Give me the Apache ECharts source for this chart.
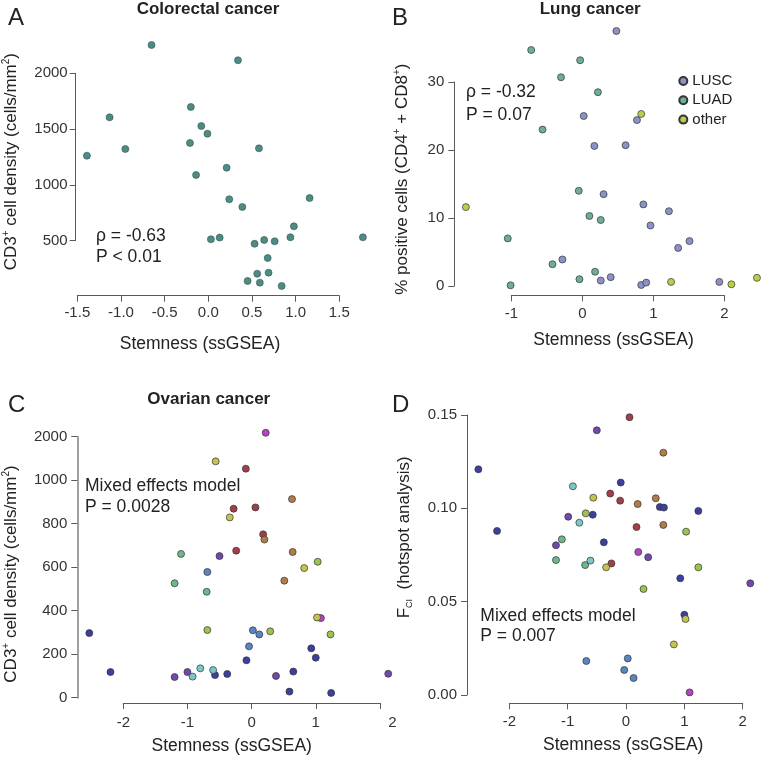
<!DOCTYPE html>
<html><head><meta charset="utf-8">
<script src="https://cdn.jsdelivr.net/npm/echarts@6/dist/echarts.min.js"></script>
<style>html,body{margin:0;padding:0;background:#fff}#c{width:762px;height:758px}</style>
</head><body><div id="c"></div>
<script>
// ---------- Panel A: Colorectal cancer ----------
const A_x = [-0.65, 0.34, -1.13, -1.39, -0.95, -0.20, -0.08, -0.01, -0.21, 0.58, -0.14, 0.21, 0.24, 0.39, 1.16, 0.98, 0.94, 1.77, 0.03, 0.13, 0.53, 0.64, 0.76, 0.68, 0.56, 0.69, 0.45, 0.59, 0.84];
const A_y = [2254, 2117, 1605, 1261, 1321, 1698, 1527, 1458, 1375, 1327, 1088, 1153, 870, 801, 881, 627, 529, 529, 511, 526, 471, 505, 493, 343, 202, 211, 137, 122, 92];
const A_xticks = [-1.5, -1.0, -0.5, 0.0, 0.5, 1.0, 1.5];
const A_yticks = [500, 1000, 1500, 2000];

// ---------- Panel B: Lung cancer ----------
const B_types = ['LUSC', 'LUAD', 'other'];
const B_x = [0.48, -0.72, -0.03, -0.30, 0.22, 0.02, 0.83, 0.77, -0.56, 0.17, 0.61, -0.05, 0.30, 0.86, 1.22, -1.64, 0.10, 0.26, 0.96, -1.05, 1.35, 1.51, -0.28, -0.42, 0.18, -0.04, 0.26, 0.40, -1.01, 0.83, 0.90, 1.25, 1.93, 2.10, 2.46];
const B_y = [37.5, 34.7, 33.2, 30.7, 28.5, 25.0, 25.3, 24.4, 23.0, 20.6, 20.7, 14.0, 13.5, 12.0, 11.0, 11.6, 10.3, 9.7, 8.9, 7.0, 5.6, 6.6, 3.9, 3.2, 2.1, 1.0, 0.8, 1.3, 0.1, 0.15, 0.5, 0.6, 0.6, 0.25, 1.2];
const B_type = ['LUSC','LUAD','LUAD','LUAD','LUAD','LUSC','other','LUSC','LUAD','LUSC','LUSC','LUAD','LUSC','LUSC','LUSC','other','LUAD','LUAD','LUSC','LUAD','LUSC','LUSC','LUSC','LUAD','LUAD','LUAD','LUSC','LUSC','LUAD','LUSC','LUSC','other','LUSC','other','other'];

// ---------- Panel C: Ovarian cancer ----------
const groups = ['DB','PU','MG','RD','OR','YO','YG','GR','CY','SB'];
const C_x = [0.22, -0.56, -0.09, 0.63, 0.06, -0.28, -0.34, 0.18, 0.20, -0.24, 0.64, -1.10, -0.50, 1.03, 0.82, -0.69, 0.51, -1.20, -0.70, 1.08, 1.02, -2.53, -0.69, 0.02, 0.12, 0.29, 1.23, -0.04, 0.93, 1.00, -0.08, -2.20, -0.80, -1.00, -0.60, 0.65, -1.20, -0.92, -0.57, -0.38, 0.38, 0.59, 1.24, 2.13];
const C_y = [2090, 1433, 1265, 913, 875, 869, 829, 751, 727, 676, 670, 661, 651, 625, 596, 578, 538, 526, 487, 366, 369, 297, 311, 310, 291, 305, 291, 236, 227, 184, 172, 118, 135, 118, 127, 120, 95, 97, 104, 109, 100, 28, 22, 110];
const C_group = ['MG','YO','RD','OR','RD','RD','YO','RD','OR','RD','OR','GR','PU','YG','YO','SB','OR','GR','GR','MG','YO','DB','YG','SB','SB','YG','YG','SB','DB','DB','DB','DB','CY','PU','CY','DB','PU','CY','DB','DB','PU','DB','DB','PU'];
const C_yticks = [0, 200, 400, 600, 800, 1000, 2000];

// ---------- Panel D: hotspot analysis ----------
const D_x = [0.06, -0.50, 0.64, -2.53, -0.09, -0.91, -0.27, -0.56, 0.51, -0.10, 0.20, 0.58, 0.65, 1.24, -0.69, -0.57, -0.99, -0.80, 0.64, 0.18, -2.21, 1.03, -1.10, -0.38, -1.20, 0.21, 0.38, -1.20, -0.61, -0.70, -0.25, -0.34, 1.24, 0.93, 2.13, 0.30, 1.00, 1.02, 0.82, -0.68, 0.03, -0.03, 0.13, 1.09];
const D_y = [0.1488, 0.1418, 0.1298, 0.1209, 0.1138, 0.1118, 0.1079, 0.1057, 0.1054, 0.1041, 0.1023, 0.1007, 0.1004, 0.0986, 0.0973, 0.0966, 0.0955, 0.0923, 0.0911, 0.0900, 0.0879, 0.0875, 0.0834, 0.0818, 0.0802, 0.0766, 0.0738, 0.0723, 0.0720, 0.0696, 0.0705, 0.0684, 0.0684, 0.0625, 0.0598, 0.0568, 0.0430, 0.0407, 0.0271, 0.0182, 0.0196, 0.0134, 0.0091, 0.0014];
const D_group = ['RD','PU','OR','DB','DB','CY','RD','YO','OR','RD','OR','DB','DB','DB','YG','DB','PU','CY','OR','RD','DB','YG','GR','DB','PU','MG','PU','GR','CY','GR','RD','YO','YG','DB','PU','YG','DB','YO','YO','SB','SB','SB','SB','MG'];

// ---------- styling ----------
const FONT = '"Liberation Sans", Arial, Helvetica, sans-serif';
const groupColor = {DB:'#3c3ea0', PU:'#7148ac', MG:'#b444c0', RD:'#a23e48', OR:'#b27c4a', YO:'#c6c34c', YG:'#9cc250', GR:'#6cb88a', CY:'#7cc6c6', SB:'#5a84c2'};
const bColor = {LUSC:'#8c91c6', LUAD:'#6cae98', other:'#b6d04c'};

// C axis uses a compressed segment above 1000 (1000..2000 drawn like 1000..1200)
const cT = v => v <= 1000 ? v : 1000 + (v - 1000) / 5;
const cInv = t => t <= 1000 ? t : 1000 + (t - 1000) * 5;

const grids = [
  {left: 77.3, top: 73.3, width: 262, height: 167.2},
  {left: 511.3, top: 82, width: 213, height: 204},
  {left: 123.3, top: 436.7, width: 256.6, height: 261},
  {left: 509.3, top: 415, width: 233.4, height: 280}
];
grids.forEach(g => { g.containLabel = false; g.outerBoundsMode = 'none'; });

function axisBase(gi, min, max, interval, offset, fmt, margin, lineColor, lineWidth, rich) {
  return {
    gridIndex: gi, type: 'value', min, max, interval, offset,
    axisLine: {show: true, onZero: false, lineStyle: {color: lineColor || '#5a5a5a', width: lineWidth || 1}},
    axisTick: {show: true, length: 6, lineStyle: {color: '#5a5a5a', width: 1}},
    axisLabel: {show: true, fontSize: 15, color: '#333', fontFamily: FONT, margin, formatter: fmt, showMinLabel: true, showMaxLabel: true, hideOverlap: false, rich},
    splitLine: {show: false}
  };
}

const xAxes = [
  axisBase(0, -1.5, 1.5, 0.5, 55.2, v => v.toFixed(1), 10),
  axisBase(1, -1, 2, 1, 9.3, v => String(v), 11),
  axisBase(2, -2, 2, 1, 5.3, v => v === 2 ? '{r|2}' : String(v), 12, null, null,
    {r: {fontSize: 15, color: '#333', fontFamily: FONT, padding: [0, 0, 0, 25]}}),
  axisBase(3, -2, 2, 1, 8.3, v => String(v), 11)
];
const yAxes = [
  axisBase(0, 500, 2000, 500, 1.6, v => String(v), 8),
  axisBase(1, 0, 30, 10, 57, v => String(v), 10),
  axisBase(2, 0, 1200, 200, 46, v => String(cInv(v)), 10, '#a0a0a0', 2),
  axisBase(3, 0, 0.15, 0.05, 42.3, v => v.toFixed(2), 10)
];

const sym = 7;
const series = [];
series.push({
  type: 'scatter', name: 'Colorectal', xAxisIndex: 0, yAxisIndex: 0, clip: false, symbolSize: sym,
  itemStyle: {color: '#4e8b83', borderColor: '#2f5650', borderWidth: 0.6, opacity: 1},
  emphasis: {disabled: true},
  data: A_x.map((x, i) => [x, A_y[i]])
});
B_types.forEach(t => {
  const d = [];
  B_x.forEach((x, i) => { if (B_type[i] === t) d.push([x, B_y[i]]); });
  series.push({
    type: 'scatter', name: t, xAxisIndex: 1, yAxisIndex: 1, clip: false, symbolSize: sym,
    itemStyle: {color: bColor[t], borderColor: '#333', borderWidth: 0.7, opacity: 1},
    emphasis: {disabled: true}, data: d
  });
});
groups.forEach(g => {
  const dc = [], dd = [];
  C_x.forEach((x, i) => { if (C_group[i] === g) dc.push([x, cT(C_y[i])]); });
  D_x.forEach((x, i) => { if (D_group[i] === g) dd.push([x, D_y[i]]); });
  series.push({
    type: 'scatter', name: 'C-' + g, xAxisIndex: 2, yAxisIndex: 2, clip: false, symbolSize: sym,
    itemStyle: {color: groupColor[g], borderColor: '#333', borderWidth: 0.7, opacity: 1},
    emphasis: {disabled: true}, data: dc
  });
  series.push({
    type: 'scatter', name: 'D-' + g, xAxisIndex: 3, yAxisIndex: 3, clip: false, symbolSize: sym,
    itemStyle: {color: groupColor[g], borderColor: '#333', borderWidth: 0.7, opacity: 1},
    emphasis: {disabled: true}, data: dd
  });
});

function txt(x, y, text, opt) {
  opt = opt || {};
  return {
    type: 'text', x, y, rotation: opt.rot || 0, silent: true,
    style: {
      text, fill: opt.color || '#222',
      font: (opt.weight || 'normal') + ' ' + (opt.size || 17.5) + 'px ' + FONT,
      textAlign: opt.align || 'left', textVerticalAlign: opt.valign || 'middle',
      rich: opt.rich
    }
  };
}
const supRich = {
  n: {fontSize: 17, fontFamily: FONT, fill: '#222', lineHeight: 20, verticalAlign: 'middle'},
  s: {fontSize: 10, fontFamily: FONT, fill: '#222', lineHeight: 20, verticalAlign: 'top'},
  b: {fontSize: 9, fontFamily: FONT, fill: '#222', lineHeight: 20, verticalAlign: 'bottom'}
};
const cd3 = '{n|CD3}{s|+}{n| cell density (cells/mm}{s|2}{n|)}';
const graphics = [
  txt(8, 18.5, 'A', {size: 24}),
  txt(392, 18, 'B', {size: 24}),
  txt(8, 405.7, 'C', {size: 24}),
  txt(392, 405, 'D', {size: 24}),
  txt(208, 9.5, 'Colorectal cancer', {weight: 'bold', size: 17, align: 'center'}),
  txt(590.2, 9, 'Lung cancer', {weight: 'bold', size: 17, align: 'center'}),
  txt(208.8, 399.5, 'Ovarian cancer', {weight: 'bold', size: 17, align: 'center'}),
  txt(200, 344.5, 'Stemness (ssGSEA)', {align: 'center'}),
  txt(613.5, 340.5, 'Stemness (ssGSEA)', {align: 'center'}),
  txt(231.7, 746.5, 'Stemness (ssGSEA)', {align: 'center'}),
  txt(623.2, 744.8, 'Stemness (ssGSEA)', {align: 'center'}),
  txt(11.7, 161.7, cd3, {align: 'center', rot: Math.PI / 2, rich: supRich}),
  txt(402.5, 179.2, '{n|% positive cells (CD4}{s|+}{n| + CD8}{s|+}{n|)}', {align: 'center', rot: Math.PI / 2, rich: supRich}),
  txt(11.7, 574, cd3, {align: 'center', rot: Math.PI / 2, rich: supRich}),
  txt(404.3, 537.3, '{n|F}{b|CI}{n|  (hotspot analysis)}', {align: 'center', rot: Math.PI / 2, rich: supRich}),
  txt(96, 236, 'ρ = -0.63'),
  txt(96, 257.5, 'P < 0.01'),
  txt(466, 92.3, 'ρ = -0.32'),
  txt(466, 115, 'P = 0.07'),
  txt(85, 485.7, 'Mixed effects model'),
  txt(85, 506.7, 'P = 0.0028'),
  txt(480.3, 615.7, 'Mixed effects model'),
  txt(480.3, 636.3, 'P = 0.007')
];

const chart = echarts.init(document.getElementById('c'), null, {renderer: 'canvas'});
chart.setOption({
  backgroundColor: '#fff',
  animation: false,
  tooltip: {show: false},
  grid: grids,
  xAxis: xAxes,
  yAxis: yAxes,
  legend: {
    show: true, data: B_types, orient: 'vertical', left: 678.3, top: 73, padding: 0,
    itemWidth: 8, itemHeight: 8, itemGap: 3.3, icon: 'circle', selectedMode: false,
    textStyle: {fontSize: 15, color: '#222', fontFamily: FONT, lineHeight: 16}
  },
  graphic: graphics,
  series
});
</script>
</body></html>
